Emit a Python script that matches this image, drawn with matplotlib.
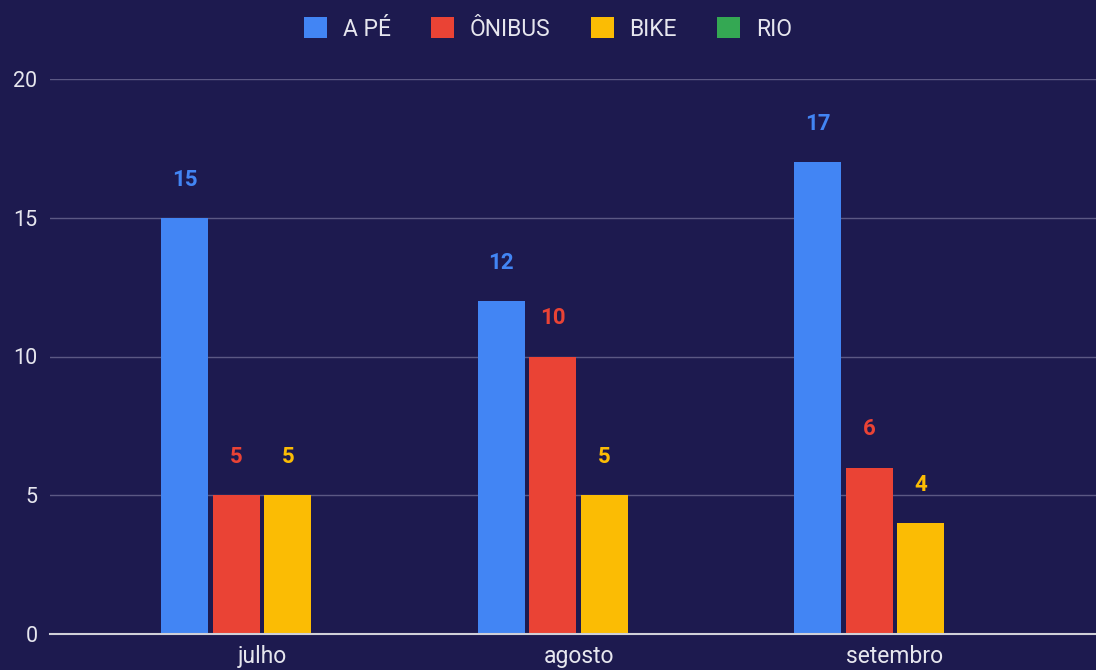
import numpy as np
import matplotlib.pyplot as plt

plt.rcParams['font.family'] = ['Roboto', 'DejaVu Sans']

months = ['julho', 'agosto', 'setembro']
series = ['A PÉ', 'ÔNIBUS', 'BIKE', 'RIO']
a_pe = [15, 12, 17]
onibus = [5, 10, 6]
bike = [5, 5, 4]
rio = [np.nan, np.nan, np.nan]
colors = ['#4285F4', '#EA4335', '#FBBC04', '#34A853']

BG = '#1d1a4f'
TXT = '#e6e6ee'

fig = plt.figure(figsize=(10.96, 6.70), dpi=100, facecolor=BG)
ax = fig.add_axes([50 / 1096, 36 / 670, 1046 / 1096, 555 / 670], facecolor=BG)

x = np.arange(len(months))
step = 0.163
width = 0.149
for i, (name, vals, c) in enumerate(zip(series, [a_pe, onibus, bike, rio], colors)):
    pos = x + (i - 1.5) * step
    ax.bar(pos, vals, width, color=c, label=name, zorder=3)
    for p, v in zip(pos, vals):
        if np.isnan(v):
            continue
        ax.annotate(f'{v}', (p, v), xytext=(0, 27.5), textcoords='offset points',
                    ha='center', va='center', color=c, fontsize=16, fontweight='bold')

ax.set_xlim(-0.67, 2.635)
ax.set_ylim(0, 20)
ax.set_yticks([0, 5, 10, 15, 20])
ax.set_xticks(x)
ax.set_xticklabels(months)
ax.tick_params(axis='both', length=0, colors=TXT)
ax.tick_params(axis='y', pad=9, labelsize=15.5)
ax.tick_params(axis='x', pad=8, labelsize=16.5)
ax.grid(axis='y', color='#5b5884', linewidth=1, zorder=0)
for s in ['top', 'right', 'left']:
    ax.spines[s].set_visible(False)
ax.spines['bottom'].set_color('#d0d0d8')
ax.spines['bottom'].set_linewidth(1.5)
ax.spines['bottom'].set_zorder(4)

handles, labels = ax.get_legend_handles_labels()
fig.legend(handles, labels, loc='center', bbox_to_anchor=(0.5, 1 - 29 / 670), ncol=4,
           frameon=False, fontsize=16.5, labelcolor=TXT, handlelength=1.0, handleheight=1.0,
           handletextpad=0.7, columnspacing=1.75)

fig.savefig('out.png', dpi=100, facecolor=BG)
